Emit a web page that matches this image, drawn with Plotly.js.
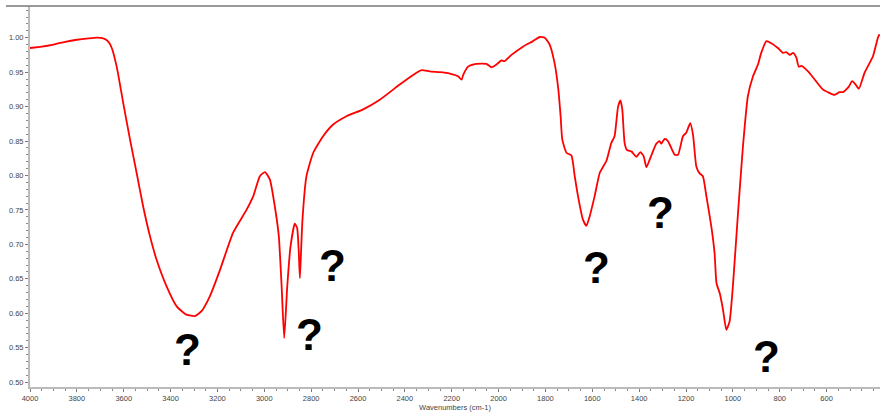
<!DOCTYPE html>
<html>
<head>
<meta charset="utf-8">
<script src="https://cdn.plot.ly/plotly-3.0.1.min.js"></script>
<style>
html,body{margin:0;padding:0;background:#fff;}
#chart{width:880px;height:415px;}
</style>
</head>
<body>
<div id="chart"></div>
<script>
// Wavenumber (cm-1)
const wavenumbers = [
4000,3950,3900,3850,3800,3750,3714,3687,3665,3651,3630,3602,3573,3545,3517,3488,3460,3417,3374,3332,
3296,3268,3232,3189,3133,3076,3047,3019,2997,2976,2955,2938,2926,2915,2902,2888,2870,2860,2853,2848,
2843,2837,2820,2791,2749,2706,2649,2578,2507,2422,2365,2329,2294,2251,2208,2173,2158,2151,2130,2094,
2052,2030,2009,1988,1974,1945,1896,1853,1824,1803,1782,1761,1745,1735,1728,1710,1689,1675,1661,1640,
1625,1611,1590,1568,1540,1519,1505,1490,1480,1472,1462,1452,1433,1412,1395,1381,1369,1355,1327,1313,
1306,1291,1277,1248,1234,1213,1199,1182,1170,1156,1142,1128,1113,1092,1078,1070,1056,1042,1028,1014,
1000,978,957,936,914,893,879,857,836,808,786,772,758,743,729,719,707,679,650,616,
566,545,530,505,491,476,462,438,402,381,374
];
// Transmittance
const transmittance = [
0.985,0.987,0.990,0.994,0.997,0.999,1.000,0.999,0.994,0.985,0.958,0.905,0.852,0.804,0.755,0.712,0.678,0.639,0.610,0.598,
0.596,0.603,0.625,0.663,0.717,0.750,0.770,0.799,0.805,0.794,0.755,0.712,0.639,0.564,0.639,0.697,0.730,0.724,0.690,0.651,
0.690,0.736,0.799,0.833,0.857,0.874,0.886,0.896,0.910,0.932,0.946,0.953,0.951,0.950,0.948,0.944,0.939,0.946,0.958,0.962,
0.962,0.957,0.961,0.967,0.966,0.975,0.987,0.995,1.001,1.000,0.990,0.963,0.925,0.885,0.852,0.833,0.829,0.799,0.770,0.736,
0.727,0.741,0.770,0.804,0.821,0.847,0.857,0.900,0.909,0.896,0.847,0.837,0.835,0.827,0.834,0.828,0.812,0.823,0.846,0.850,
0.846,0.853,0.850,0.830,0.830,0.857,0.862,0.876,0.859,0.813,0.803,0.799,0.770,0.726,0.687,0.644,0.629,0.605,0.576,0.588,
0.639,0.746,0.842,0.915,0.944,0.961,0.978,0.995,0.992,0.985,0.978,0.979,0.975,0.978,0.971,0.958,0.959,0.951,0.939,0.925,
0.917,0.921,0.921,0.929,0.937,0.932,0.926,0.949,0.973,1.000,1.005
];
// Axis tick labels
const xTicks = [4000,3800,3600,3400,3200,3000,2800,2600,2400,2200,2000,1800,1600,1400,1200,1000,800,600];
const yTicks = [0.50,0.55,0.60,0.65,0.70,0.75,0.80,0.85,0.90,0.95,1.00];
const yTickText = ["0.50","0.55","0.60","0.65","0.70","0.75","0.80","0.85","0.90","0.95","1.00"];
// Question-mark labels
const markText = ["?","?","?","?","?","?"];
const markX = [3326, 2805, 2707, 1580, 1307, 855];
const markY = [0.548, 0.569, 0.670, 0.666, 0.746, 0.537];

const trace = {
  x: wavenumbers, y: transmittance, type: 'scatter', mode: 'lines',
  line: {color: '#ff0000', width: 1.8, shape: 'spline', smoothing: 0.5}, hoverinfo: 'skip'
};

const tickFont = {family: 'Liberation Sans, Arial, sans-serif', size: 7.5, color: '#444'};

const annotations = markText.map((t, i) => ({
  x: markX[i], y: markY[i], xref: 'x', yref: 'y', text: t, showarrow: false,
  font: {family: 'Liberation Sans, Arial, sans-serif', size: 44, color: '#000', weight: 'bold'},
  xanchor: 'center', yanchor: 'middle'
}));

const layout = {
  width: 880, height: 415,
  margin: {l: 30, r: 0, t: 6, b: 28, pad: 0},
  paper_bgcolor: '#fff', plot_bgcolor: '#fff',
  showlegend: false,
  xaxis: {
    range: [4000, 372], autorange: false,
    tickmode: 'array', tickvals: xTicks, ticktext: xTicks.map(String),
    ticks: 'outside', ticklen: 3, tickcolor: '#777', tickwidth: 1,
    minor: {tick0: 4000, dtick: 50, ticklen: 2, tickcolor: '#888', ticks: 'outside'},
    showline: true, linecolor: '#bbb', linewidth: 2,
    showgrid: false, zeroline: false,
    tickfont: tickFont,
    title: {text: 'Wavenumbers (cm-1)', font: tickFont, standoff: 2}
  },
  yaxis: {
    range: [0.493, 1.046], autorange: false,
    tickmode: 'array', tickvals: yTicks, ticktext: yTickText,
    ticks: 'outside', ticklen: 3, tickcolor: '#777', tickwidth: 1,
    minor: {tick0: 0.5, dtick: 0.01, ticklen: 2, tickcolor: '#888', ticks: 'outside'},
    showline: true, linecolor: '#bbb', linewidth: 2,
    showgrid: false, zeroline: false,
    tickfont: tickFont
  },
  shapes: [{
    type: 'line', xref: 'paper', yref: 'paper',
    x0: -24/850, x1: 1, y0: 1, y1: 1,
    line: {color: '#777', width: 1.5}
  }],
  annotations: annotations
};

Plotly.newPlot('chart', [trace], layout, {displayModeBar: false, staticPlot: true});
</script>
</body>
</html>
